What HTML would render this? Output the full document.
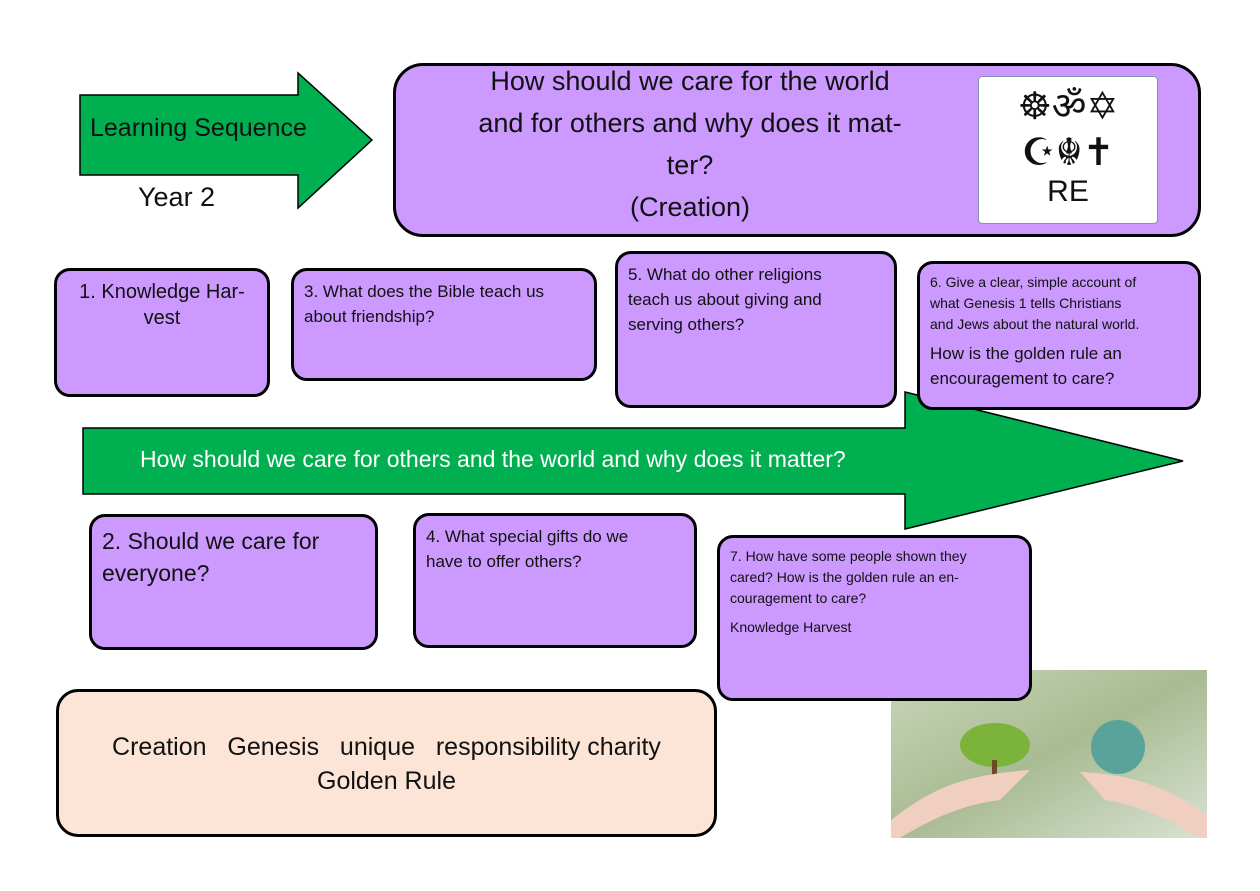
<!DOCTYPE html>
<html><head><meta charset="utf-8"><style>
body{margin:0;width:1260px;height:891px;background:#fff;position:relative;overflow:hidden;font-family:"Liberation Sans",sans-serif;color:#111}
.b{position:absolute;background:#cc99ff;border:3px solid #000;border-radius:16px;box-sizing:border-box;padding:8px 10px;font-size:16px;line-height:25px}
svg{position:absolute;left:0;top:0}
.t{position:absolute}
</style></head><body>
<svg width="1260" height="891">
<polygon points="80,95 298,95 298,73 372,140 298,208 298,175 80,175" fill="#00b050" stroke="#000" stroke-width="1.5"/>
<polygon points="83,428 905,428 905,392 1183,461 905,529 905,494 83,494" fill="#00b050" stroke="#000" stroke-width="1.5"/>
<defs><linearGradient id="g" x1="0" y1="0" x2="1" y2="1"><stop offset="0" stop-color="#c9d6b8"/><stop offset="0.5" stop-color="#a9bb93"/><stop offset="1" stop-color="#d8e2d2"/></linearGradient></defs>
<rect x="891" y="670" width="316" height="168" fill="url(#g)"/>
<ellipse cx="995" cy="745" rx="35" ry="22" fill="#7cb33a"/>
<rect x="992" y="760" width="5" height="18" fill="#6b4a2a"/>
<circle cx="1118" cy="747" r="27" fill="#5aa39a"/>
<path d="M891,820 C930,790 960,775 1030,770 L1000,800 C960,805 930,820 900,838 L891,838Z" fill="#f0cfc0"/>
<path d="M1207,815 C1170,790 1140,775 1080,772 L1105,800 C1140,805 1170,820 1200,838 L1207,838Z" fill="#f0cfc0"/>
</svg>
<div class="t" style="left:90px;top:114px;font-size:25px">Learning Sequence</div>
<div class="t" style="left:138px;top:182px;font-size:27px">Year 2</div>
<div class="b" style="left:393px;top:63px;width:808px;height:174px;border-radius:30px;padding:0"></div>
<div class="t" style="left:405px;top:60px;width:570px;text-align:center;font-size:27px;line-height:42px;white-space:nowrap">How should we care for the world<br>and for others and why does it mat-<br>ter?<br>(Creation)</div>
<div class="t" style="left:978px;top:76px;width:180px;height:148px;background:#fff;border:1px solid #8090b0;border-radius:4px;box-sizing:border-box;text-align:center">
<div style="font-size:38px;line-height:46px;margin-top:6px;font-family:'DejaVu Sans',sans-serif">☸ॐ✡<br>☪☬✝</div>
<div style="font-size:30px;margin-top:0px">RE</div></div>
<div class="b" style="left:54px;top:268px;width:216px;height:129px;font-size:20px;line-height:26px;text-align:center">1. Knowledge Har-<br>vest</div>
<div class="b" style="left:291px;top:268px;width:306px;height:113px;font-size:17px">3. What does the Bible teach us<br>about friendship?</div>
<div class="b" style="left:615px;top:251px;width:282px;height:157px;font-size:17px">5. What do other religions<br>teach us about giving and<br>serving others?</div>
<div class="b" style="left:917px;top:261px;width:284px;height:149px;font-size:14px;line-height:21px">6. Give a clear, simple account of<br>what Genesis 1 tells Christians<br>and Jews about the natural world.<div style="font-size:17px;line-height:25px;margin-top:6px">How is the golden rule an<br>encouragement to care?</div></div>
<div class="t" style="left:140px;top:446px;font-size:23px;color:#fff">How should we care for others and the world and why does it matter?</div>
<div class="b" style="left:89px;top:514px;width:289px;height:136px;font-size:23px;line-height:32px">2. Should we care for<br>everyone?</div>
<div class="b" style="left:413px;top:513px;width:284px;height:135px;font-size:17px">4. What special gifts do we<br>have to offer others?</div>
<div class="b" style="left:717px;top:535px;width:315px;height:166px;font-size:14px;line-height:21px">7. How have some people shown they<br>cared? How is the golden rule an en-<br>couragement to care?<div style="margin-top:8px">Knowledge Harvest</div></div>
<div class="b" style="left:56px;top:689px;width:661px;height:148px;background:#fce4d6;border-radius:22px;text-align:center;font-size:25px;line-height:34px;padding-top:38px">Creation &nbsp; Genesis &nbsp; unique &nbsp; responsibility charity<br>Golden Rule</div>
</body></html>
